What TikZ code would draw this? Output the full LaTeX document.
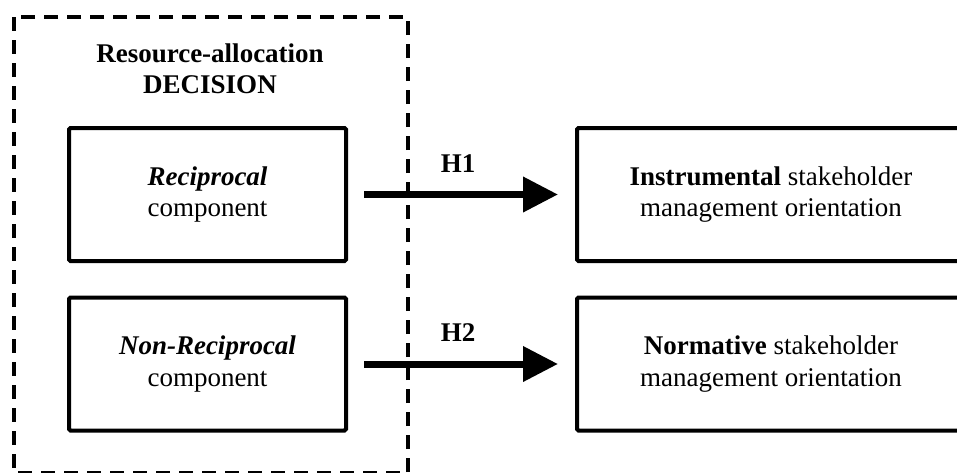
\documentclass[tikz,border=0pt]{standalone}
\usepackage{fontspec}
\setmainfont{Liberation Serif}
\usetikzlibrary{arrows.meta}
\begin{document}
\begin{tikzpicture}[x=1pt,y=-1pt,
  box/.style={draw, line width=4pt, rounded corners=1.5pt, minimum width=277pt, minimum height=133pt, align=center, inner sep=0pt, font=\fontsize{27}{31.5}\selectfont},
  rbox/.style={box, minimum width=388pt},
  lbl/.style={font=\fontsize{27}{30.5}\selectfont\bfseries, inner sep=0pt, align=center},
  hyp/.style={line width=7pt, -{Triangle[length=35pt,width=34pt]}, shorten <=16pt, shorten >=17pt},
  frame/.style={draw, line width=4pt, dash pattern=on 14pt off 9pt}
]
\useasboundingbox (0,0) rectangle (957,472);
\clip (0,0) rectangle (957,472);
\draw[frame] (14,17) rectangle (408,473);
\node[lbl] (head) at (210,69) {Resource-allocation\\DECISION};
\node[box] (rec) at (207.5,194.5) {\textbf{\textit{Reciprocal}}\\component};
\node[box] (nrec) at (207.5,364) {\textbf{\textit{Non-Reciprocal}}\\component};
\node[rbox] (ins) at (771,194.5) {\textbf{Instrumental} stakeholder\\management orientation};
\node[rbox] (nor) at (771,364) {\textbf{Normative} stakeholder\\management orientation};
\draw[hyp] (rec.east) -- (ins.west);
\draw[hyp] (nrec.east) -- (nor.west);
\node[lbl] (h1) at (458,164) {H1};
\node[lbl] (h2) at (458,333) {H2};
\end{tikzpicture}
\end{document}
